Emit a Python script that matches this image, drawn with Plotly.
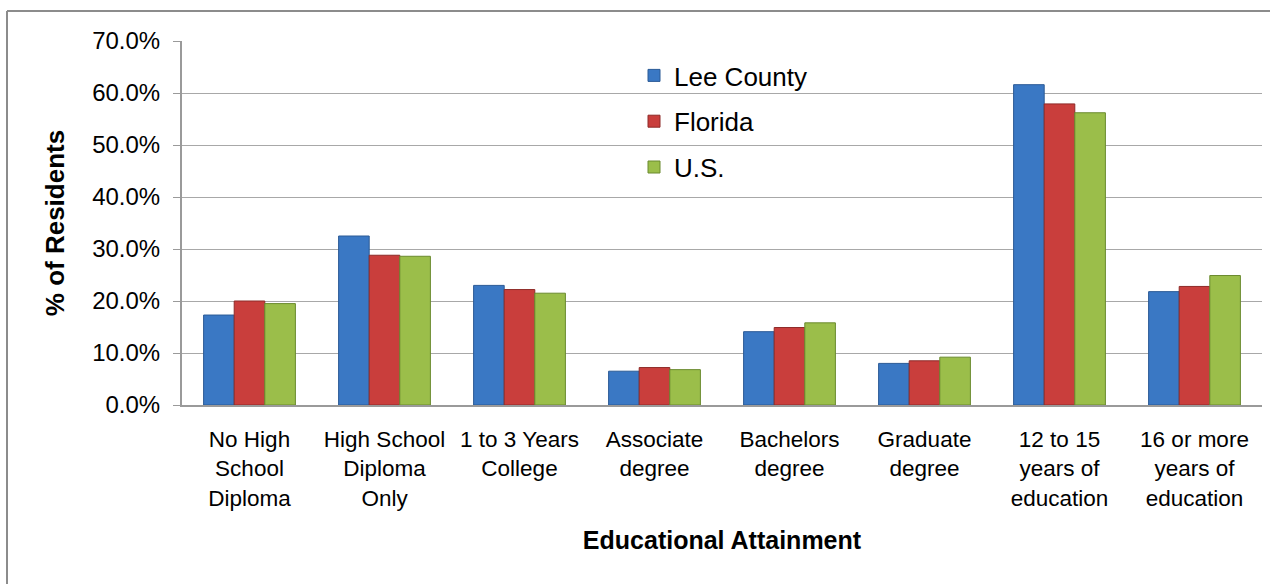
import plotly.graph_objects as go

categories = [
    "No High<br>School<br>Diploma",
    "High School<br>Diploma<br>Only",
    "1 to 3 Years<br>College",
    "Associate<br>degree",
    "Bachelors<br>degree",
    "Graduate<br>degree",
    "12 to 15<br>years of<br>education",
    "16 or more<br>years of<br>education",
]
lee_county = [17.3, 32.5, 23.0, 6.5, 14.1, 8.0, 61.6, 21.8]
florida = [20.0, 28.8, 22.2, 7.2, 14.9, 8.5, 57.9, 22.8]
us = [19.5, 28.6, 21.5, 6.8, 15.8, 9.2, 56.2, 24.9]
y_ticks = [0, 10, 20, 30, 40, 50, 60, 70]
y_tick_labels = ["0.0%", "10.0%", "20.0%", "30.0%", "40.0%", "50.0%", "60.0%", "70.0%"]

series = [
    ("Lee County", lee_county, "#3A78C4", "#2A5A96"),
    ("Florida", florida, "#C93E3C", "#8E2A28"),
    ("U.S.", us, "#9BBE4A", "#6A8A2E"),
]

FONT = "Liberation Sans, Arial, sans-serif"

fig = go.Figure()
for name, vals, col, edge in series:
    fig.add_trace(go.Bar(
        x=categories, y=vals, name=name, legendgroup=name,
        marker=dict(color=col, line=dict(color=edge, width=1)),
    ))

L, R, T, B = 182, 8, 41, 179
W, H = 1270, 584
pw = W - L - R
ph = H - T - B

def px_x(p):
    return (p - L) / pw

def px_y(p):
    return (H - B - p) / ph

fig.update_layout(
    width=W, height=H,
    margin=dict(l=L, r=R, t=T, b=B, pad=0),
    paper_bgcolor="white", plot_bgcolor="white",
    barmode="group", bargap=0.32, bargroupgap=0.0,
    font=dict(family=FONT, color="black"),
    legend=dict(
        x=px_x(634), y=px_y(52), xanchor="left", yanchor="top",
        font=dict(size=26, family=FONT), bgcolor="rgba(0,0,0,0)",
        tracegroupgap=9, traceorder="grouped",
    ),
    xaxis=dict(
        showline=True, linecolor="#9A9A9A", linewidth=2,
        showgrid=False, ticks="", tickfont=dict(size=22.5, family=FONT),
        ticklabelstandoff=13,
        title=dict(text="<b>Educational Attainment</b>", font=dict(size=25, family=FONT), standoff=22),
    ),
    yaxis=dict(
        range=[0, 70], tickvals=y_ticks, ticktext=y_tick_labels,
        showline=True, linecolor="#9A9A9A", linewidth=2,
        showgrid=True, gridcolor="#A8A8A8", gridwidth=1,
        ticks="outside", ticklen=7, tickcolor="#9A9A9A", tickwidth=1,
        tickfont=dict(size=24, family=FONT), ticklabelstandoff=8,
        zeroline=False,
        title=dict(text="<b>% of Residents</b>", font=dict(size=26, family=FONT), standoff=20),
    ),
    shapes=[
        dict(type="line", xref="paper", yref="paper",
             x0=px_x(7), x1=px_x(7), y0=px_y(11), y1=px_y(600),
             line=dict(color="#8C8C8C", width=2)),
        dict(type="line", xref="paper", yref="paper",
             x0=px_x(7), x1=px_x(1290), y0=px_y(11), y1=px_y(11),
             line=dict(color="#8C8C8C", width=2)),
    ],
)

fig.write_html("out.html")
